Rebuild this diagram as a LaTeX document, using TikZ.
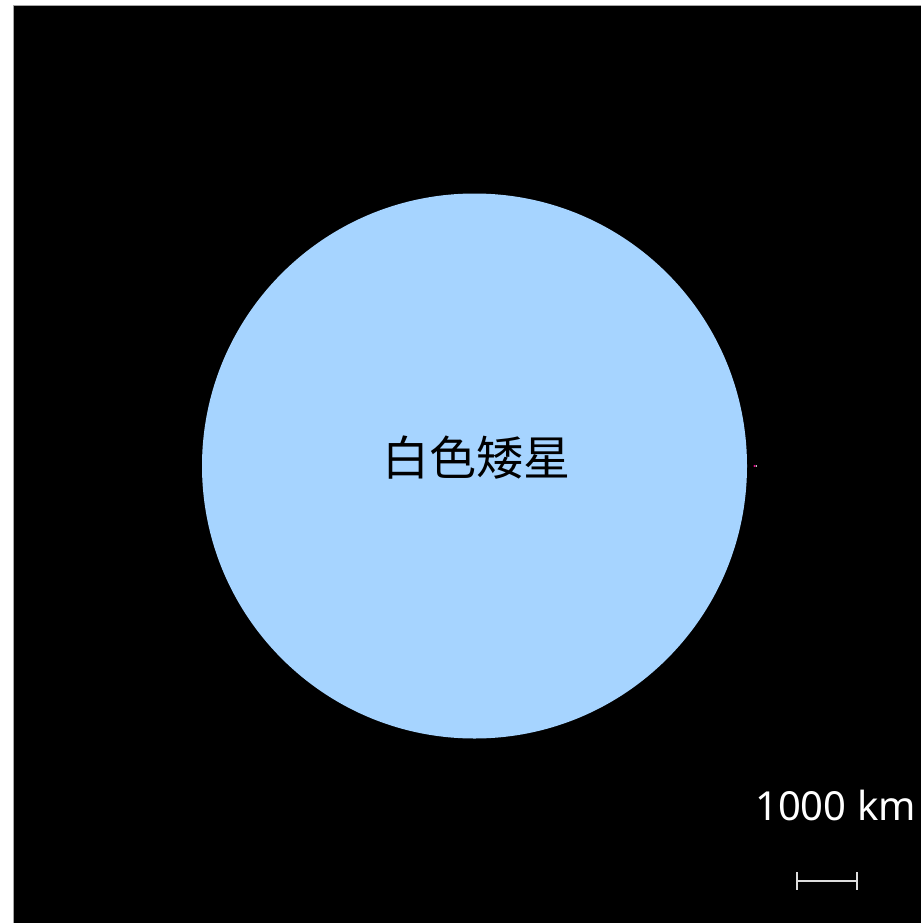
\documentclass[tikz,border=0pt]{standalone}
\usetikzlibrary{calc}
\usepackage{fontspec}
\setmainfont{Noto Sans}
\newfontfamily\cjk{Noto Sans CJK SC}
\definecolor{wdblue}{HTML}{A6D4FF}
\definecolor{barcol}{HTML}{DDDDDD}
\begin{document}
\begin{tikzpicture}[x=1pt,y=-1pt,
  label/.style={inner sep=0pt, anchor=center},
  bar/.style={draw=barcol, line width=1.3pt}]
\useasboundingbox (0,0) rectangle (921,923);
\fill[white] (0,0) rectangle (921,923);
\fill[black] (13,5) rectangle (921,923);
\draw[gray!70, line width=0.6pt] (13,923) -- (13,5) -- (921,5);
\fill[wdblue] (474.5,466) circle (272.5);
\node[label, font=\cjk\fontsize{47}{52}\selectfont] (wd) at (476,458) {白色矮星};
\fill[magenta] (754.5,466) circle (1.1);
\fill[white] (756.3,466) circle (0.9);
\node[label, text=white, font=\fontsize{40}{45}\selectfont] (lbl) at (835.5,805) {1000 km};
\coordinate (b1) at (797,881);
\coordinate (b2) at (857,881);
\draw[bar] (b1) -- (b2);
\draw[bar] ($(b1)+(0,-9)$) -- ($(b1)+(0,9)$);
\draw[bar] ($(b2)+(0,-9)$) -- ($(b2)+(0,9)$);
\end{tikzpicture}
\end{document}
